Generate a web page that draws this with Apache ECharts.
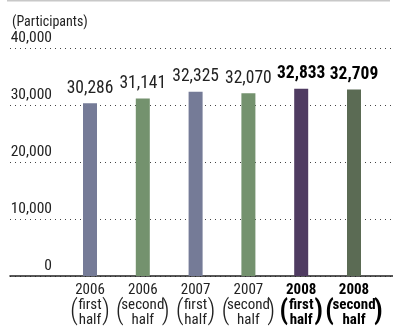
<!DOCTYPE html>
<html>
<head>
<meta charset="utf-8">
<script src="https://cdn.jsdelivr.net/npm/echarts@6/dist/echarts.min.js"></script>
<style>
  html, body { margin: 0; padding: 0; background: #fff; }
  #chart { width: 393px; height: 331px; }
</style>
</head>
<body>
<div id="chart"></div>
<script>
// Participants per half-year period
const years = ['2006', '2006', '2007', '2007', '2008', '2008'];
const halves = ['first', 'second', 'first', 'second', 'first', 'second'];
const participants = [30286, 31141, 32325, 32070, 32833, 32709];
const emphasized = [false, false, false, false, true, true];
const barColors = ['#757b97', '#74926e', '#757b97', '#74926e', '#4f3b61', '#5b6b54'];
const yMin = 0, yMax = 40000, yStep = 10000;
const unitLabel = '(Participants)';

const COND = '"Roboto Condensed", "Open Sans Condensed", "Liberation Sans", sans-serif';
const INK = '#222';

const chart = echarts.init(document.getElementById('chart'), null, { renderer: 'canvas' });

const fmt = v => v.toLocaleString('en-US');

const gridTop = 48, gridBottom = 55;

chart.setOption({
  animation: false,
  title: {
    text: unitLabel,
    left: 7,
    top: 10,
    textStyle: { fontFamily: COND, fontSize: 14, fontWeight: 'normal', color: INK }
  },
  graphic: [{
    type: 'rect',
    shape: { x: 7, y: 0, width: 383, height: 1.5 },
    style: { fill: '#c8c8c8' },
    silent: true
  }],
  grid: [
    { left: 63.6, right: 12.6, top: gridTop, bottom: gridBottom },
    { left: 10, right: 0, top: gridTop, bottom: gridBottom }
  ],
  xAxis: [
    {
      type: 'category', gridIndex: 0, data: years,
      axisLine: { show: false }, axisTick: { show: false },
      axisLabel: {
        interval: 0, margin: 7,
        formatter: (v, i) => {
          const s = emphasized[i] ? 'b' : 'n';
          return `{${s}|${v}}\n{${s}|${halves[i]}}\n{${s}|half}`;
        },
        rich: {
          n: { fontFamily: COND, fontSize: 15, color: INK, lineHeight: 15 },
          b: { fontFamily: COND, fontSize: 15, fontWeight: 'bold', color: '#000', lineHeight: 15 }
        }
      }
    },
    {
      // tall brackets around the two-line half-year caption
      type: 'category', gridIndex: 0, data: years, position: 'bottom',
      axisLine: { show: false }, axisTick: { show: false },
      axisLabel: {
        interval: 0, margin: 22,
        formatter: (v, i) => {
          const b = emphasized[i] ? 'b' : 'n';
          const g = (halves[i] === 'first' ? 'f' : 's') + b;
          return `{p${b}|(}{${g}| }{p${b}|)}`;
        },
        rich: {
          pn: { fontFamily: COND, fontSize: 27, fontWeight: 300, color: INK, lineHeight: 29 },
          pb: { fontFamily: COND, fontSize: 27, fontWeight: 'bold', color: '#000', lineHeight: 29 },
          fn: { width: 24 },
          sn: { width: 38 },
          fb: { width: 26 },
          sb: { width: 40 }
        }
      }
    },
    {
      type: 'value', gridIndex: 1, min: 0, max: 1,
      axisLine: { show: true, onZero: false, lineStyle: { color: '#222', width: 1.6 } },
      axisTick: { show: false }, axisLabel: { show: false }, splitLine: { show: false }
    }
  ],
  yAxis: [
    {
      type: 'value', gridIndex: 0, min: yMin, max: yMax, interval: yStep, show: false
    },
    {
      type: 'value', gridIndex: 1, min: yMin, max: yMax, interval: yStep,
      axisLine: { show: false }, axisTick: { show: false },
      axisLabel: {
        inside: true, margin: 42, align: 'right', verticalAlign: 'bottom',
        padding: [0, 0, 2, 0],
        fontFamily: COND, fontSize: 15.5, color: INK,
        formatter: v => fmt(v)
      },
      splitLine: { show: true, lineStyle: { color: '#444', width: 1, type: [1, 4] } }
    }
  ],
  series: [{
    type: 'bar',
    xAxisIndex: 0, yAxisIndex: 0,
    barWidth: 14,
    z: 3,
    data: participants.map((v, i) => ({
      value: v,
      itemStyle: { color: barColors[i] },
      label: emphasized[i]
        ? { fontWeight: 'bold', color: '#000' }
        : { fontWeight: 'normal', color: INK }
    })),
    label: {
      show: true, position: 'top', distance: 6,
      fontFamily: COND, fontSize: 17.5,
      formatter: p => fmt(p.value)
    }
  }]
});
</script>
</body>
</html>
